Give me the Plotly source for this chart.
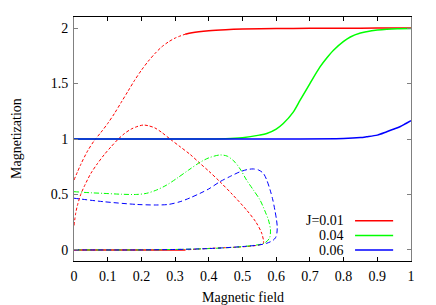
import plotly.graph_objects as go

# ---------------- data ----------------
x_ticks = [0, 0.1, 0.2, 0.3, 0.4, 0.5, 0.6, 0.7, 0.8, 0.9, 1]
x_tick_labels = ["0", "0.1", "0.2", "0.3", "0.4", "0.5", "0.6", "0.7", "0.8", "0.9", "1"]
y_ticks = [0, 0.5, 1, 1.5, 2]
y_tick_labels = ["0", "0.5", "1", "1.5", "2"]
legend_labels = ["J=0.01", "0.04", "0.06"]

# J = 0.01 (red)
red_low_x = [0, 0.33]
red_low_y = [0, 0]
red_high_x = [0.33, 0.35, 0.40, 0.45, 0.50, 0.60, 0.70, 0.80, 0.90, 1.00]
red_high_y = [1.945, 1.958, 1.975, 1.985, 1.991, 1.996, 1.998, 1.999, 2.0, 2.0]
red_up_x = [0, 0.02, 0.04, 0.06, 0.08, 0.10, 0.12, 0.14, 0.16, 0.18, 0.20,
            0.22, 0.24, 0.26, 0.28, 0.30, 0.33]
red_up_y = [0.63, 0.77, 0.89, 0.985, 1.06, 1.14, 1.23, 1.33, 1.43, 1.53, 1.62,
            1.70, 1.77, 1.83, 1.875, 1.91, 1.945]
red_loop_x = [0, 0.005, 0.01, 0.02, 0.03, 0.05, 0.07, 0.09, 0.11, 0.13, 0.15,
              0.17, 0.19, 0.206, 0.22, 0.24, 0.26, 0.285, 0.315, 0.345, 0.374,
              0.40, 0.433, 0.47, 0.512, 0.54, 0.557, 0.562,
              0.55, 0.51, 0.45, 0.41, 0.37, 0.33]
red_loop_y = [0.22, 0.33, 0.40, 0.50, 0.57, 0.69, 0.78, 0.86, 0.93, 0.995, 1.05,
              1.09, 1.115, 1.126, 1.12, 1.10, 1.06, 1.00, 0.93, 0.86, 0.78,
              0.71, 0.615, 0.50, 0.36, 0.25, 0.15, 0.06,
              0.045, 0.03, 0.02, 0.015, 0.008, 0.0]

# J = 0.04 (green)
green_stable_x = [0, 0.45, 0.50, 0.55, 0.572, 0.60, 0.621, 0.65, 0.671, 0.70, 0.73,
                  0.75, 0.77, 0.80, 0.82, 0.85, 0.868, 0.90, 0.928, 0.96, 1.00]
green_stable_y = [1.0, 1.003, 1.012, 1.035, 1.05, 1.09, 1.14, 1.24, 1.35, 1.50, 1.65,
                  1.73, 1.80, 1.88, 1.92, 1.955, 1.967, 1.982, 1.99, 1.995, 1.997]
green_loop_x = [0, 0.05, 0.087, 0.14, 0.186, 0.215, 0.245, 0.275, 0.305, 0.34, 0.374,
                0.40, 0.433, 0.455, 0.478, 0.495, 0.512, 0.53, 0.552, 0.568, 0.577,
                0.583, 0.58, 0.564, 0.50, 0.40, 0.30, 0.20, 0]
green_loop_y = [0.525, 0.515, 0.51, 0.502, 0.50, 0.51, 0.54, 0.585, 0.645, 0.72, 0.79,
                0.83, 0.856, 0.845, 0.79, 0.72, 0.63, 0.55, 0.45, 0.34, 0.27,
                0.18, 0.105, 0.06, 0.03, 0.012, 0.004, 0.0, 0.0]

# J = 0.06 (blue)
blue_stable_x = [0, 0.80, 0.85, 0.868, 0.90, 0.928, 0.95, 0.967, 0.985, 1.00]
blue_stable_y = [1.0, 1.005, 1.013, 1.02, 1.035, 1.066, 1.09, 1.11, 1.14, 1.165]
blue_loop_x = [0, 0.087, 0.186, 0.245, 0.28, 0.315, 0.345, 0.374, 0.40, 0.433, 0.465,
               0.493, 0.515, 0.532, 0.548, 0.562, 0.572, 0.582, 0.59, 0.596, 0.601,
               0.603, 0.602, 0.598, 0.59, 0.572, 0.55, 0.50, 0.40, 0.30, 0.20, 0]
blue_loop_y = [0.466, 0.435, 0.41, 0.405, 0.41, 0.435, 0.47, 0.51, 0.55, 0.615, 0.665,
               0.705, 0.725, 0.73, 0.72, 0.69, 0.63, 0.54, 0.45, 0.36, 0.27,
               0.21, 0.15, 0.11, 0.085, 0.06, 0.045, 0.03, 0.012, 0.004, 0.0, 0.0]

RED, GREEN, BLUE = "#ff0000", "#00ff00", "#0000ff"
FONT = "Liberation Serif"

fig = go.Figure()

def line(x, y, color, width=1.5, dash="solid"):
    fig.add_trace(go.Scatter(x=x, y=y, mode="lines", showlegend=False,
                             line=dict(color=color, width=width, dash=dash,
                                       shape="spline", smoothing=0.8),
                             hoverinfo="skip"))

# red
line(red_low_x, red_low_y, RED)
line(red_high_x, red_high_y, RED)
line(red_up_x, red_up_y, RED, 1, "3px,2px")
line(red_loop_x, red_loop_y, RED, 1, "3px,2px")
# green
line(green_stable_x, green_stable_y, GREEN)
line(green_loop_x, green_loop_y, GREEN, 1, "5px,2px,1px,2px")
# blue
line(blue_stable_x, blue_stable_y, BLUE)
line(blue_loop_x, blue_loop_y, BLUE, 1, "5px,3px")

# legend (text left, line sample right, as in gnuplot)
leg_y = [0.165, 0.104, 0.045]
for lab, col, yy in zip(legend_labels, [RED, GREEN, BLUE], leg_y):
    fig.add_annotation(x=0.806, y=yy, xref="paper", yref="paper", text=lab,
                       showarrow=False, xanchor="right", yanchor="middle",
                       font=dict(family=FONT, size=14, color="black"))
    fig.add_shape(type="line", xref="paper", yref="paper", x0=0.834, x1=0.947,
                  y0=yy, y1=yy, line=dict(color=col, width=1.5))

# axis titles
fig.add_annotation(x=0.5, y=0, xref="paper", yref="paper", text="Magnetic field",
                   showarrow=False, xanchor="center", yanchor="middle", yshift=-36,
                   font=dict(family=FONT, size=14, color="black"))
fig.add_annotation(x=0, y=0.5, xref="paper", yref="paper", text="Magnetization",
                   showarrow=False, xanchor="center", yanchor="middle", xshift=-58,
                   textangle=-90, font=dict(family=FONT, size=14, color="black"))

# the page body has an 8px margin, so the figure is 8px smaller and offsets shrink
fig.update_layout(
    template="none",
    width=428, height=297,
    margin=dict(l=66, r=25, t=9, b=44, pad=0),
    paper_bgcolor="white", plot_bgcolor="white",
    font=dict(family=FONT, size=14, color="black"),
    showlegend=False,
    xaxis=dict(range=[0, 1], tickvals=x_ticks, ticktext=x_tick_labels,
               ticks="inside", ticklen=4, tickcolor="black", mirror="allticks",
               showline=True, linecolor="black", linewidth=1, automargin=False,
               showgrid=False, zeroline=False, ticklabelstandoff=2,
               tickfont=dict(family=FONT, size=14, color="black")),
    yaxis=dict(range=[-0.1, 2.1], tickvals=y_ticks, ticktext=y_tick_labels,
               ticks="inside", ticklen=4, tickcolor="#808080", mirror="allticks",
               showline=True, linecolor="#808080", linewidth=1, automargin=False,
               showgrid=False, zeroline=False, ticklabelstandoff=2,
               tickfont=dict(family=FONT, size=14, color="black")),
)

fig.write_html("out.html")
